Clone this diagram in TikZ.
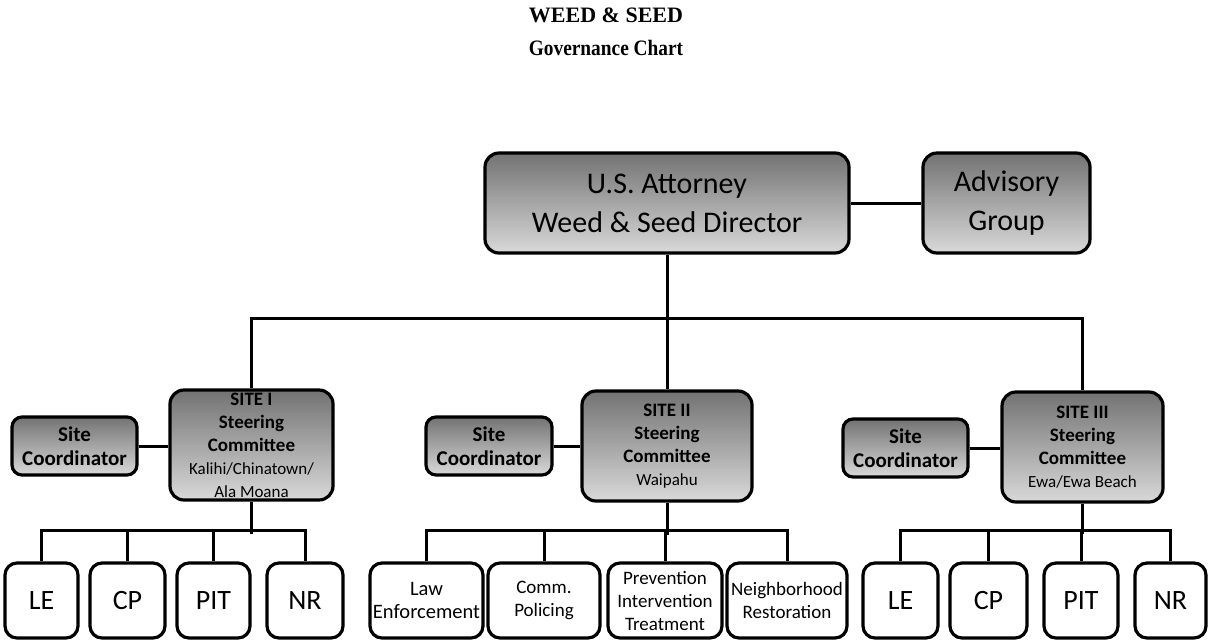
\documentclass[tikz,border=0pt]{standalone}
\usepackage{fontspec}
\setmainfont{Carlito}
\newfontfamily\titlefont{Liberation Serif}
\begin{document}
\begin{tikzpicture}[x=1pt,y=-1pt,
  shadedbox/.style={draw, line width=3.2pt, rounded corners=14pt, top color=black!55, bottom color=black!15, align=center, inner sep=0pt},
  plainbox/.style={draw, line width=3.2pt, rounded corners=12pt, fill=white, align=center, inner sep=0pt, minimum height=75pt},
  bigtxt/.style={font=\fontsize{30}{39}\selectfont},
  midtxt/.style={font=\bfseries\fontsize{19}{23}\selectfont},
  coordtxt/.style={font=\bfseries\fontsize{21}{24}\selectfont},
  smalltxt/.style={font=\fontsize{19}{23}\selectfont},
  abbr/.style={font=\fontsize{28}{32}\selectfont},
  wire/.style={line width=3pt}]
\useasboundingbox (0,0) rectangle (1209,641);
\node[font=\titlefont\bfseries\fontsize{22}{33}\selectfont, align=center] (title) at (606,32) {WEED \& SEED\\\scalebox{0.88}[1]{Governance Chart}};
% top level
\node[shadedbox, bigtxt, minimum width=364pt, minimum height=100pt] (top) at (667,203) {U.S. Attorney\\Weed \& Seed Director};
\node[shadedbox, bigtxt, minimum width=167pt, minimum height=100pt] (adv) at (1006.5,203) {Advisory\\Group};
% sites
\node[shadedbox, midtxt, minimum width=163pt, minimum height=110pt] (s1) at (251.5,445) {SITE I\\Steering\\Committee\\{\mdseries\fontsize{17}{20}\selectfont Kalihi/Chinatown/}\\{\mdseries\fontsize{17}{20}\selectfont Ala Moana}};
\node[shadedbox, midtxt, minimum width=170pt, minimum height=110pt] (s2) at (667,446) {SITE II\\Steering\\Committee\\{\mdseries\fontsize{17}{20}\selectfont Waipahu}};
\node[shadedbox, midtxt, minimum width=161pt, minimum height=110pt] (s3) at (1082.5,447) {SITE III\\Steering\\Committee\\{\mdseries\fontsize{17}{20}\selectfont Ewa/Ewa Beach}};
% coordinators
\node[shadedbox, coordtxt, rounded corners=10pt, minimum width=125pt, minimum height=58pt] (c1) at (74.5,446) {Site\\Coordinator};
\node[shadedbox, coordtxt, rounded corners=10pt, minimum width=126pt, minimum height=58pt] (c2) at (489,446) {Site\\Coordinator};
\node[shadedbox, coordtxt, rounded corners=10pt, minimum width=125pt, minimum height=58pt] (c3) at (905.5,448) {Site\\Coordinator};
% group I
\node[plainbox, abbr, minimum width=73pt] (le1) at (41.5,600.5) {LE};
\node[plainbox, abbr, minimum width=75pt] (cp1) at (127.5,600.5) {CP};
\node[plainbox, abbr, minimum width=73pt] (pit1) at (213.5,600.5) {PIT};
\node[plainbox, abbr, minimum width=76pt] (nr1) at (305,600.5) {NR};
% group II
\node[plainbox, smalltxt, font=\fontsize{20.5}{23}\selectfont, minimum width=113pt] (law) at (426.5,600.5) {Law\\Enforcement};
\node[plainbox, smalltxt, minimum width=112pt] (comm) at (544,600.5) {Comm.\\Policing};
\node[plainbox, smalltxt, minimum width=114pt] (prev) at (665,600.5) {Prevention\\Intervention\\Treatment};
\node[plainbox, smalltxt, minimum width=120pt] (neigh) at (787,600.5) {Neighborhood\\Restoration};
% group III
\node[plainbox, abbr, minimum width=75pt] (le3) at (900.5,600.5) {LE};
\node[plainbox, abbr, minimum width=77pt] (cp3) at (988.5,600.5) {CP};
\node[plainbox, abbr, minimum width=74pt] (pit3) at (1081,600.5) {PIT};
\node[plainbox, abbr, minimum width=71pt] (nr3) at (1170.5,600.5) {NR};
% connectors
\draw[wire] (top.east) -- (adv.west);
\draw[wire] (top.south) -- (s2.north);
\draw[wire] (s1.north) -- ++(0,-70) -| (s3.north);
\draw[wire] (c1.east) -- (c1.east -| s1.west);
\draw[wire] (c2.east) -- (c2.east -| s2.west);
\draw[wire] (c3.east) -- (c3.east -| s3.west);
% bottom buses
\draw[wire] (le1.north) -- ++(0,-31) -| (nr1.north);
\draw[wire] (cp1.north) -- ++(0,-31);
\draw[wire] (pit1.north) -- ++(0,-31);
\draw[wire] (s1.south) -- ++(0,32);
\draw[wire] (law.north) -- ++(0,-31) -| (neigh.north);
\draw[wire] (comm.north) -- ++(0,-31);
\draw[wire] (prev.north) -- ++(0,-31);
\draw[wire] (s2.south) -- ++(0,32);
\draw[wire] (le3.north) -- ++(0,-31) -| (nr3.north);
\draw[wire] (cp3.north) -- ++(0,-31);
\draw[wire] (pit3.north) -- ++(0,-31);
\draw[wire] (s3.south) -- ++(0,30);
\end{tikzpicture}
\end{document}
